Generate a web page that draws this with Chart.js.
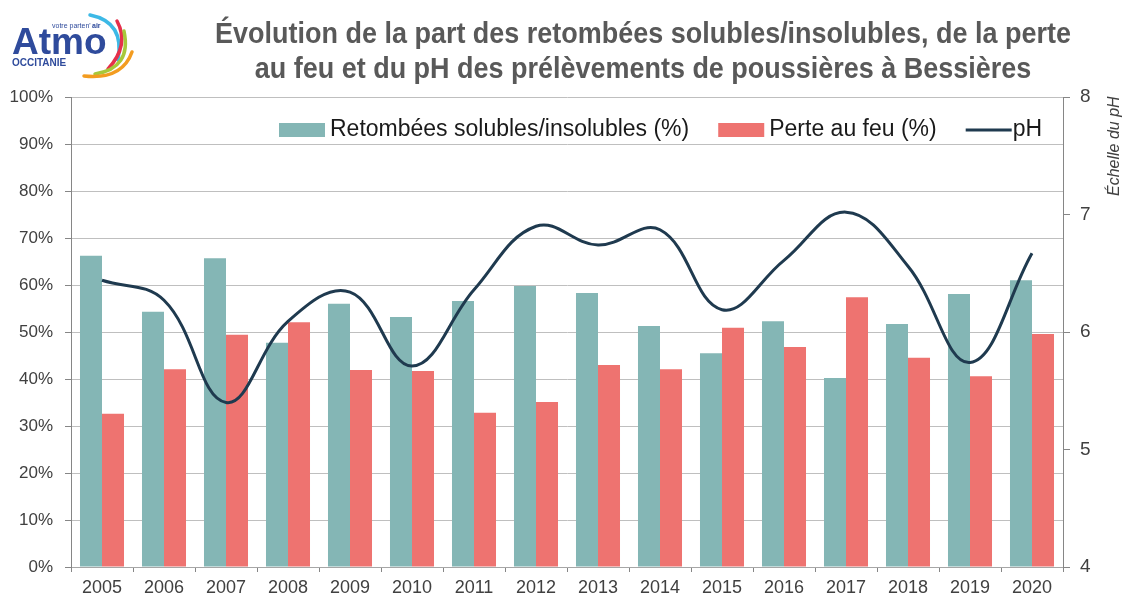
<!DOCTYPE html>
<html lang="fr">
<head>
<meta charset="utf-8">
<title>Retombées de poussières - Bessières</title>
<script src="https://cdn.jsdelivr.net/npm/chart.js@4.4.1/dist/chart.umd.min.js"></script>
<style>
    html, body { margin: 0; padding: 0; background: #fff; }
    .wrap { position: relative; width: 1127px; height: 601px; }
    #chart { position: absolute; left: 0; top: 0; }
    #logo { position: absolute; left: 0; top: 0; }
    .title {
        position: absolute; left: 143px; top: 16px; width: 1000px;
        text-align: center; color: #595959;
        font: bold 29px "Liberation Sans", Arial, sans-serif;
        line-height: 35px; white-space: nowrap;
        transform: scaleX(0.93); transform-origin: 500px 0;
    }
</style>
</head>
<body>
<div class="wrap">
    <canvas id="chart" width="1127" height="601"></canvas>
    <canvas id="logo" width="150" height="90"></canvas>
    <div class="title">Évolution de la part des retombées solubles/insolubles, de la perte<br>au feu et du pH des prélèvements de poussières à Bessières</div>
</div>

<script>
    // données
    const annees = ['2005', '2006', '2007', '2008', '2009', '2010', '2011', '2012',
                    '2013', '2014', '2015', '2016', '2017', '2018', '2019', '2020'];
    const retombees = [66.2, 54.3, 65.7, 47.7, 56.0, 53.2, 56.6, 59.8,
                       58.3, 51.3, 45.5, 52.3, 40.2, 51.7, 58.1, 61.0];
    const perteFeu = [32.6, 42.1, 49.4, 52.1, 41.9, 41.7, 32.8, 35.1,
                      43.0, 42.1, 50.9, 46.8, 57.4, 44.5, 40.6, 49.6];
    const ph = [6.44, 6.27, 5.40, 6.09, 6.34, 5.71, 6.36, 6.90,
                6.74, 6.87, 6.19, 6.61, 7.02, 6.56, 5.74, 6.67];

    const FONT = '"Liberation Sans", Arial, sans-serif';
    const TEAL = '#84b6b5';
    const RED = '#ee7370';
    const NAVY = '#1f3a4f';

    // logo Atmo Occitanie
    (function () {
        const c = document.getElementById('logo').getContext('2d');
        c.lineWidth = 3.5;
        c.lineCap = 'round';
        const arcs = [
            ['#3db9e6', 90, 15, 125, 22, 118, 60],
            ['#e5304b', 117, 21, 130, 45, 108, 69],
            ['#a7c83a', 124, 31, 132, 68, 95, 74],
            ['#f39c20', 132, 52, 122, 80, 84, 76]
        ];
        arcs.forEach(a => {
            c.strokeStyle = a[0];
            c.beginPath();
            c.moveTo(a[1], a[2]);
            c.quadraticCurveTo(a[3], a[4], a[5], a[6]);
            c.stroke();
        });
        c.fillStyle = '#2f4b9c';
        c.font = 'bold 37px ' + FONT;
        c.fillText('Atmo', 12, 54);
        c.font = 'bold 10px ' + FONT;
        c.fillText('OCCITANIE', 12, 66);
        c.font = '7px ' + FONT;
        c.fillText("votre parten'", 52, 28);
        c.font = 'bold 7px ' + FONT;
        c.fillText('air', 92, 28);
    })();

    // légende dessinée dans la zone du graphique + titre de l'axe pH
    const extras = {
        id: 'extras',
        afterDraw(chart) {
            const ctx = chart.ctx;
            ctx.save();
            ctx.font = '23px ' + FONT;
            ctx.textBaseline = 'middle';
            const y = 130;
            let x = 279;
            chart.data.datasets.slice().sort((a, b) => a.legendPos - b.legendPos).forEach(ds => {
                if (ds.type === 'line') {
                    ctx.strokeStyle = ds.borderColor;
                    ctx.lineWidth = 3;
                    ctx.beginPath();
                    ctx.moveTo(x, y);
                    ctx.lineTo(x + 46, y);
                    ctx.stroke();
                } else {
                    ctx.fillStyle = ds.backgroundColor;
                    ctx.fillRect(x, y - 7, 46, 14);
                }
                const tx = ds.type === 'line' ? x + 47 : x + 51;
                ctx.fillStyle = '#1a1a1a';
                ctx.fillText(ds.label, tx, y);
                x = tx + ctx.measureText(ds.label).width + 29;
            });

            ctx.translate(1115, 196);
            ctx.rotate(-Math.PI / 2);
            ctx.font = 'italic 16px ' + FONT;
            ctx.fillStyle = '#404040';
            ctx.textAlign = 'left';
            ctx.fillText('Échelle du pH', 0, 0);
            ctx.restore();
        }
    };

    new Chart(document.getElementById('chart'), {
        data: {
            labels: annees,
            datasets: [
                {
                    type: 'line',
                    label: 'pH',
                    data: ph,
                    yAxisID: 'yPh',
                    borderColor: NAVY,
                    borderWidth: 3,
                    pointRadius: 0,
                    tension: 0.4,
                    order: 0,
                    legendPos: 3
                },
                {
                    type: 'bar',
                    label: 'Retombées solubles/insolubles (%)',
                    data: retombees,
                    yAxisID: 'y',
                    backgroundColor: TEAL,
                    categoryPercentage: 0.71,
                    barPercentage: 1,
                    order: 1,
                    legendPos: 1
                },
                {
                    type: 'bar',
                    label: 'Perte au feu (%)',
                    data: perteFeu,
                    yAxisID: 'y',
                    backgroundColor: RED,
                    categoryPercentage: 0.71,
                    barPercentage: 1,
                    order: 1,
                    legendPos: 2
                }
            ]
        },
        options: {
            responsive: false,
            animation: false,
            layout: { padding: { top: 97, left: 0, right: 0, bottom: 0 } },
            plugins: {
                legend: { display: false },
                tooltip: { enabled: false }
            },
            scales: {
                x: {
                    offset: true,
                    grid: { offset: true, drawOnChartArea: false, tickLength: 5, color: '#868686' },
                    border: { color: '#a6a6a6' },
                    ticks: { color: '#404040', font: { family: FONT, size: 18 }, padding: 5, maxRotation: 0 },
                    afterFit: s => { s.height = 34; }
                },
                y: {
                    position: 'left',
                    min: 0, max: 100,
                    grid: { color: '#bfbfbf', tickLength: 6, tickColor: '#868686' },
                    border: { color: '#868686' },
                    ticks: {
                        stepSize: 10, color: '#404040', padding: 12,
                        font: { family: FONT, size: 17 },
                        callback: v => v + '%'
                    },
                    afterFit: s => { s.width = 71; }
                },
                yPh: {
                    position: 'right',
                    min: 4, max: 8,
                    grid: { drawOnChartArea: false, tickLength: 7, color: '#868686' },
                    border: { color: '#868686' },
                    ticks: { stepSize: 1, color: '#404040', padding: 10, font: { family: FONT, size: 19 } },
                    afterFit: s => { s.width = 64; }
                }
            }
        },
        plugins: [extras]
    });
</script>
</body>
</html>
